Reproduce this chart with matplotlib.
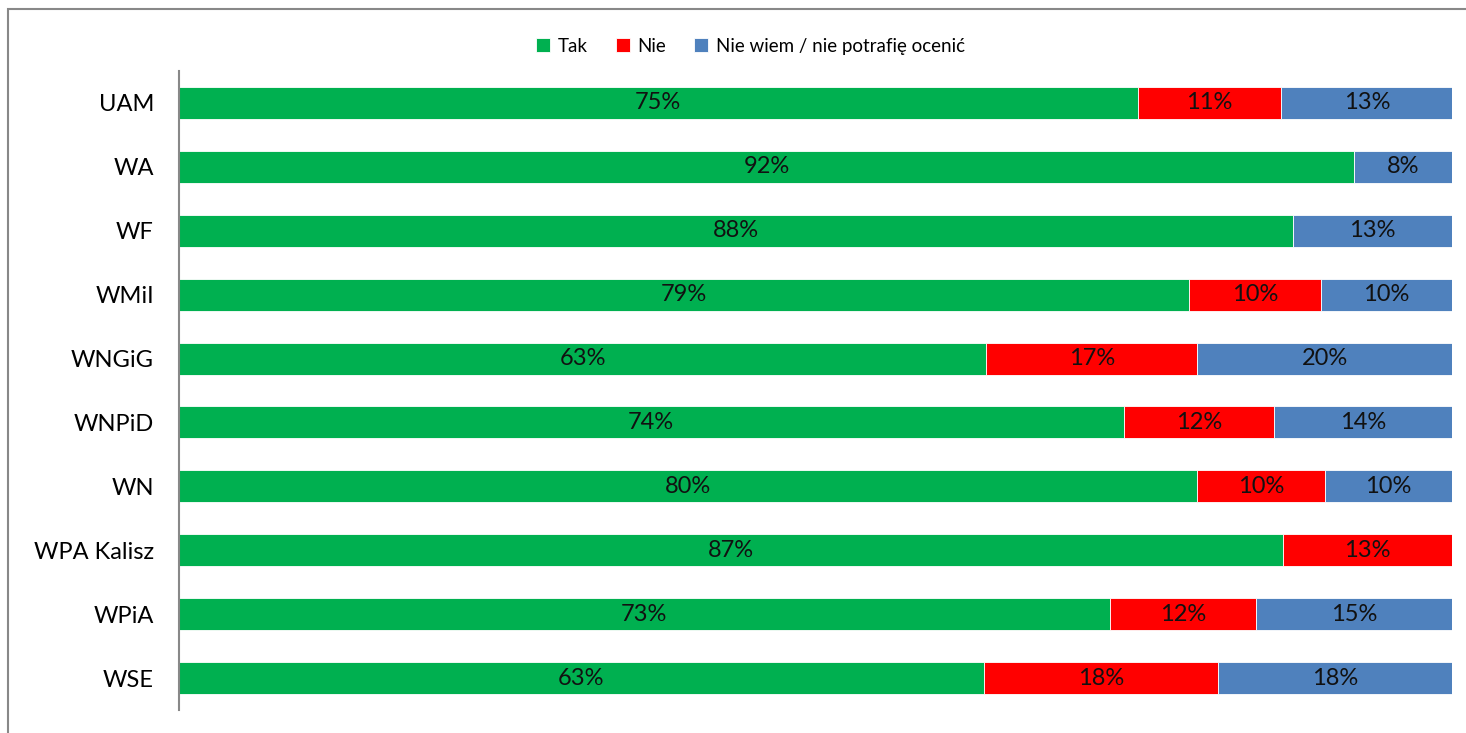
import matplotlib.pyplot as plt
import matplotlib.patches as patches
import numpy as np

plt.rcParams['font.family'] = ['Lato', 'DejaVu Sans']

# Data (percent)
categories = ['UAM', 'WA', 'WF', 'WMiI', 'WNGiG', 'WNPiD', 'WN', 'WPA Kalisz', 'WPiA', 'WSE']
tak = [75.3, 92.3, 87.5, 79.3, 63.4, 74.2, 80.0, 86.7, 73.1, 63.2]
nie = [11.3, 0.0, 0.0, 10.4, 16.6, 11.8, 10.0, 13.3, 11.5, 18.4]
nie_wiem = [13.4, 7.7, 12.5, 10.3, 20.0, 14.0, 10.0, 0.0, 15.4, 18.4]
series_names = ['Tak', 'Nie', 'Nie wiem / nie potrafię ocenić']
colors = ['#00B050', '#FF0000', '#4F81BD']

fig = plt.figure(figsize=(14.66, 7.33), dpi=100)
ax = fig.add_axes([0.1221, 0.0314, 0.8684, 0.8717])

y = np.arange(len(categories))
left = np.zeros(len(categories))
handles = []
for vals, name, col in zip([tak, nie, nie_wiem], series_names, colors):
    vals = np.array(vals)
    bars = ax.barh(y, vals, left=left, height=0.5, color=col,
                   edgecolor='white', linewidth=0.6, label=name)
    handles.append(bars)
    for yi, l, v in zip(y, left, vals):
        if v > 0:
            # round half up, like Excel
            ax.text(l + v / 2, yi, f'{int(np.floor(v + 0.5))}%', ha='center',
                    va='center', fontsize=17, color='#111111')
    left += vals

ax.set_xlim(0, 100)
ax.set_ylim(len(categories) - 0.5, -0.5)
ax.set_yticks(y)
ax.set_yticklabels(categories, fontsize=17)
ax.tick_params(axis='y', length=0, pad=18)
ax.set_xticks([])
for s in ['top', 'right', 'bottom']:
    ax.spines[s].set_visible(False)
ax.spines['left'].set_color('#888888')
ax.spines['left'].set_linewidth(1.5)

fig.legend(handles=handles, labels=series_names, loc='center', ncol=3,
           bbox_to_anchor=(0.512, 0.937), frameon=False, fontsize=13.5,
           handlelength=0.75, handleheight=0.75, handletextpad=0.4,
           columnspacing=1.5)

# outer chart frame
fig.patches.append(patches.Rectangle((8 / 1466, -0.05), 1.1, 1.05 - 9 / 733,
                                     transform=fig.transFigure, fill=False,
                                     edgecolor='#888888', linewidth=1.5))

fig.savefig('out.png', dpi=100)
